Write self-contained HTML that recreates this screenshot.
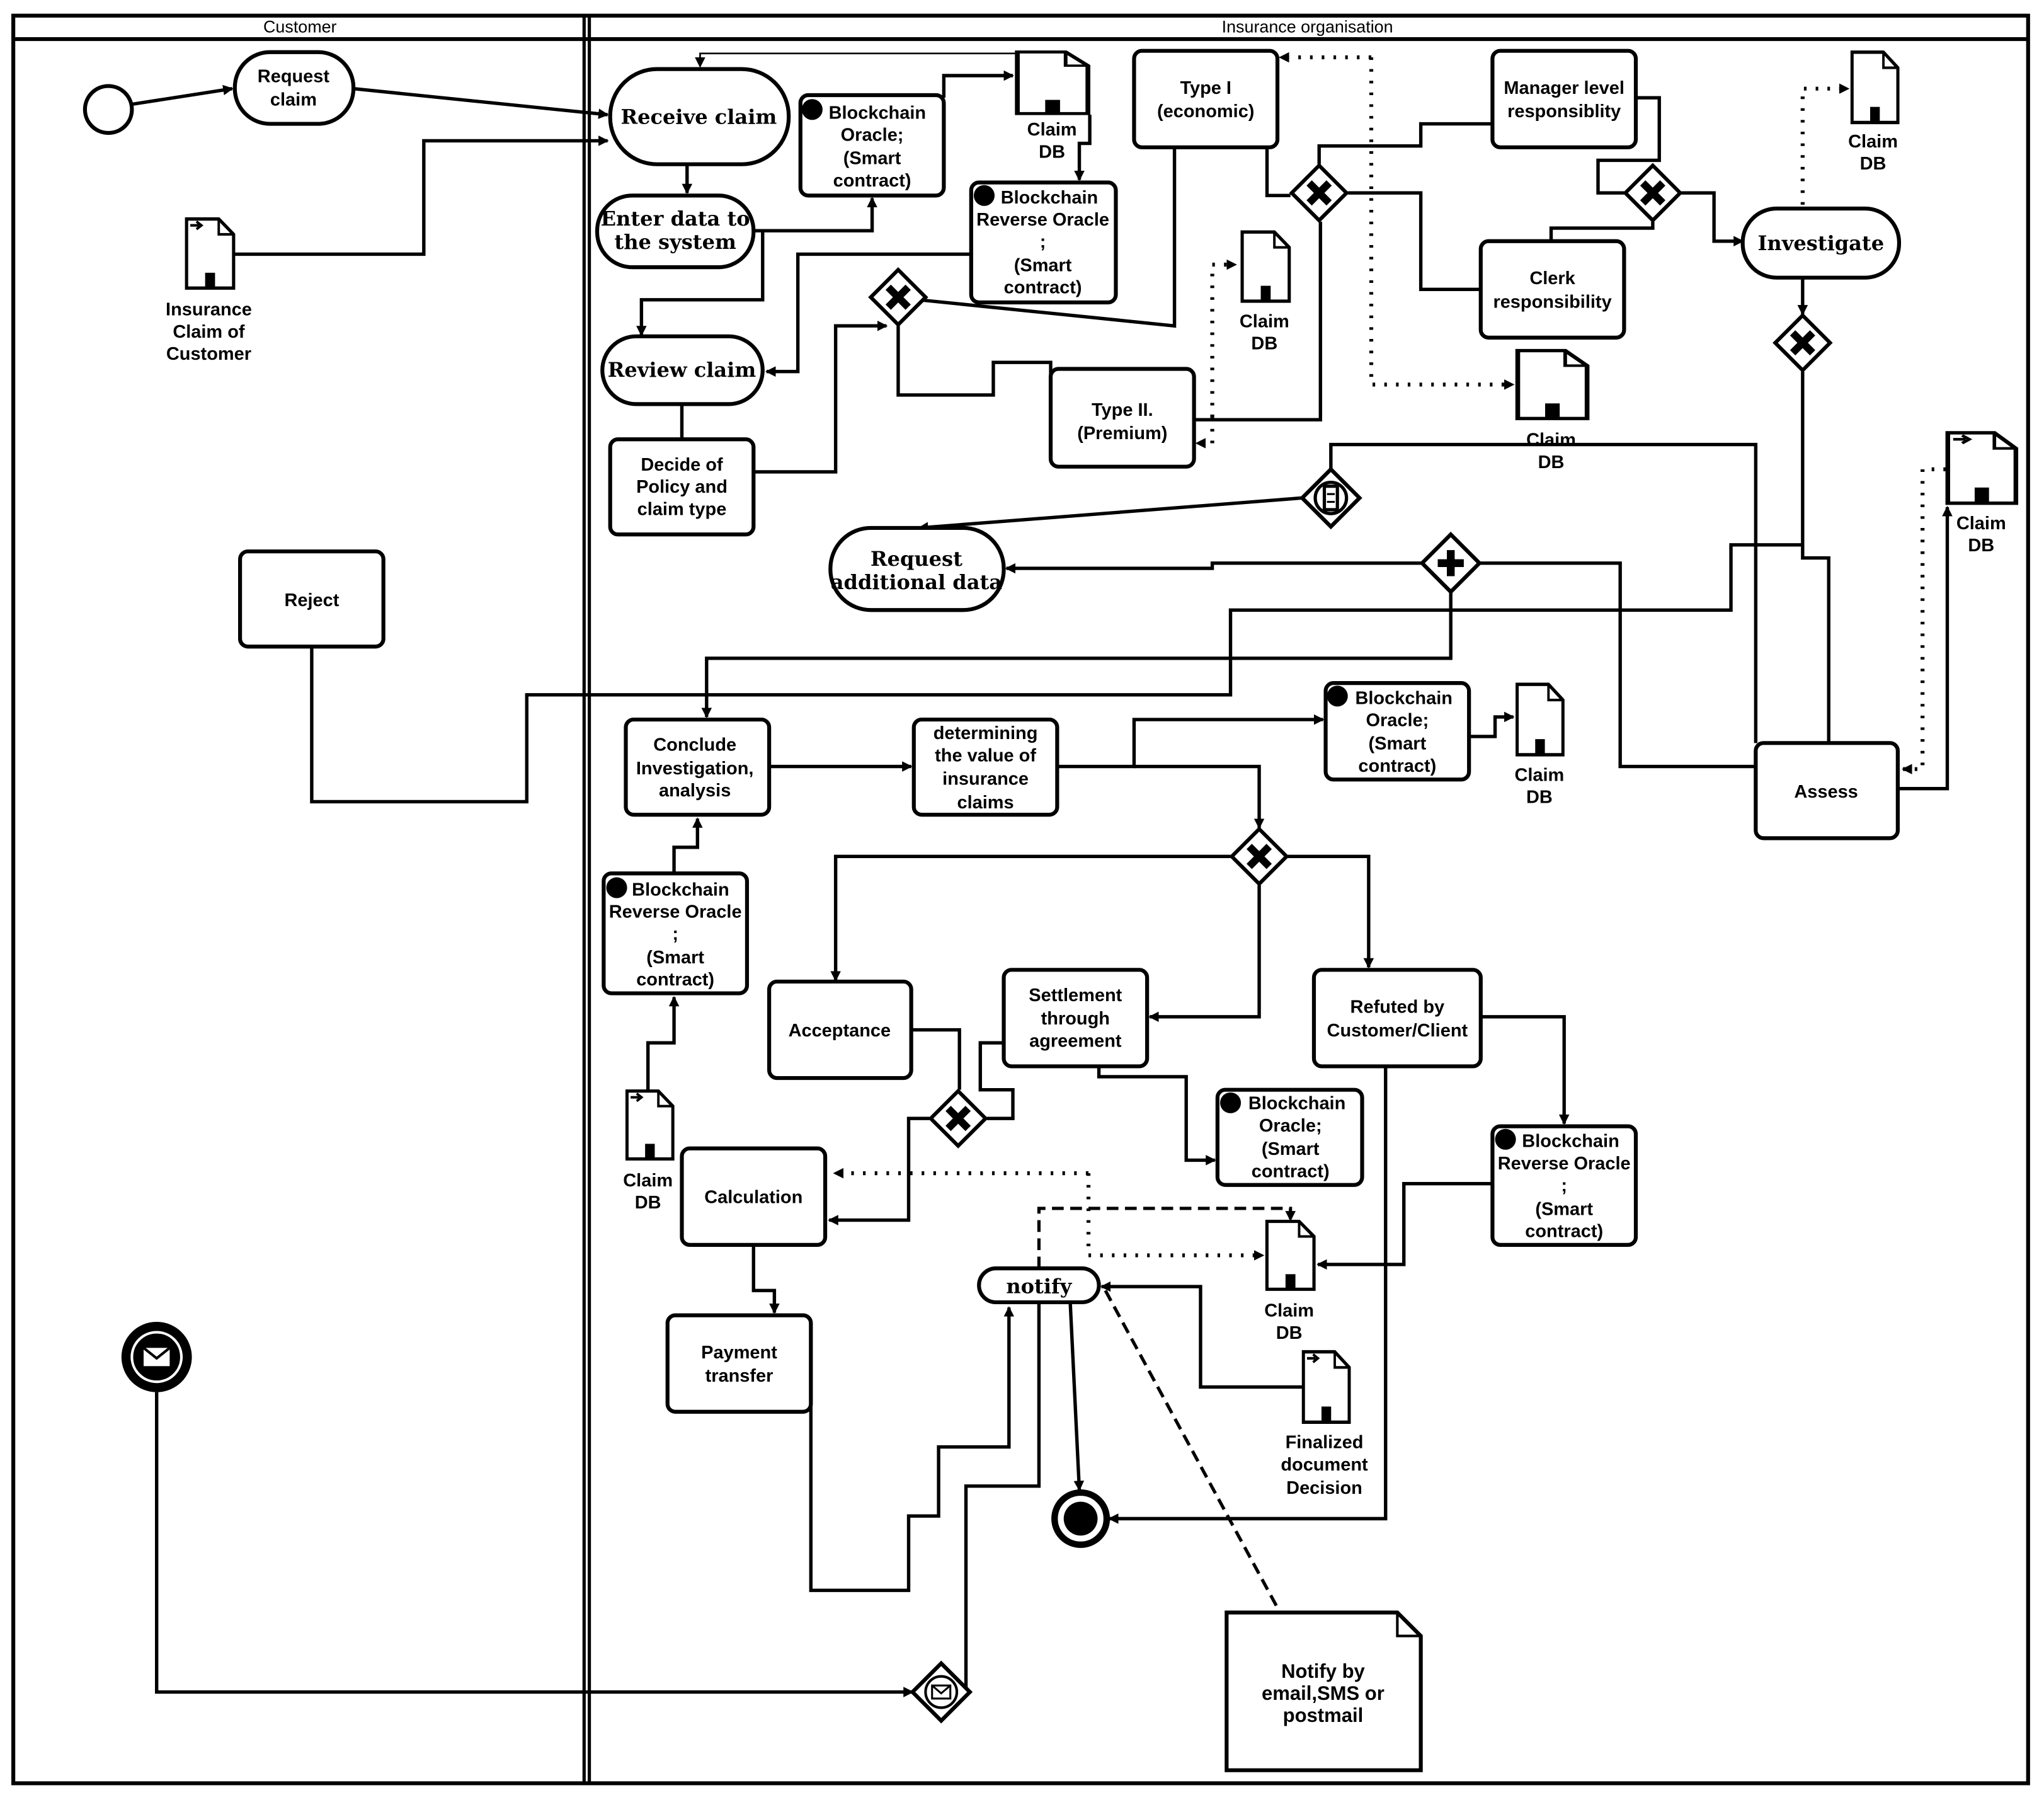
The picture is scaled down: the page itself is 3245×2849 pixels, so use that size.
<!DOCTYPE html>
<html><head><meta charset="utf-8"><style>
html,body{margin:0;padding:0;background:#fff}
svg{display:block}
text{font-family:"Liberation Sans","DejaVu Sans",sans-serif;font-weight:bold;font-size:14px;text-anchor:middle;fill:#000}
.s{font-family:"DejaVu Serif","Liberation Serif",serif;font-size:15.5px}
.b{fill:#fff;stroke:#000;stroke-width:3}
.l{fill:none;stroke:#000;stroke-width:2.6}
.d{fill:none;stroke:#000;stroke-width:3;stroke-dasharray:2 7}
.k{fill:none;stroke:#000;stroke-width:2.5;stroke-dasharray:9 5}
</style></head><body>
<svg width="3245" height="2849" viewBox="0 0 1568 1377" xmlns="http://www.w3.org/2000/svg">
<defs>
<marker id="a" markerWidth="8" markerHeight="8" refX="7" refY="4" orient="auto" markerUnits="userSpaceOnUse" viewBox="0 0 8 8"><path d="M0,0 L8,4 L0,8 z"/></marker>
<symbol id="doc" viewBox="0 0 40 56" overflow="visible" preserveAspectRatio="none"><path d="M1,1 H27 L39,13 V55 H1 Z" fill="#fff" stroke="#000" stroke-width="2.6"/><path d="M27,1 V13 H39" fill="none" stroke="#000" stroke-width="2"/><rect x="16" y="43" width="8" height="12"/></symbol>
<symbol id="doci" viewBox="0 0 40 56" overflow="visible" preserveAspectRatio="none"><path d="M1,1 H27 L39,13 V55 H1 Z" fill="#fff" stroke="#000" stroke-width="2.6"/><path d="M27,1 V13 H39" fill="none" stroke="#000" stroke-width="2"/><rect x="16" y="43" width="8" height="12"/><path d="M4,6 H11 M9,3 L13,6 L9,9" fill="none" stroke="#000" stroke-width="2"/></symbol>
<symbol id="gx" viewBox="-23 -23 46 46" overflow="visible"><path d="M0,-22 L22,0 L0,22 L-22,0 Z" fill="#fff" stroke="#000" stroke-width="3"/><path d="M-8,-8 L8,8 M8,-8 L-8,8" stroke="#000" stroke-width="6"/></symbol>
</defs>
<rect x="10" y="12" width="1546" height="1356" fill="none" stroke="#000" stroke-width="3"/>
<line x1="10" y1="30" x2="1556" y2="30" stroke="#000" stroke-width="3"/>
<line x1="448" y1="12" x2="448" y2="1368" stroke="#000" stroke-width="2.5"/>
<line x1="452" y1="12" x2="452" y2="1368" stroke="#000" stroke-width="2.5"/>
<text x="230" y="25" style="font-size:13px;font-weight:normal">Customer</text>
<text x="1003" y="25" style="font-size:13px;font-weight:normal">Insurance organisation</text>

<g class="l" marker-end="url(#a)">
<polyline points="101,80 178,68"/>
<polyline points="271,68 466,88"/>
<polyline points="180,195 325,195 325,108 466,108"/>
<polyline points="527,126 527,148"/>
<polyline points="578,177 669,177 669,152"/>
<polyline points="585,177 585,230 492,230 492,257"/>
<polyline points="724,75 724,58 777,58"/>
<polyline points="836,88 836,110 828,110 828,138"/>
<polyline points="745,195 612,195 612,285 588,285"/>
<polyline points="578,362 641,362 641,250 680,250"/>
<polyline points="999,382 705,405"/>
<polyline points="1113,454 1113,505 542,505 542,550"/>
<polyline points="1090,432 930,432 930,436 772,436"/>
<polyline points="1383,213 1383,241"/>
<polyline points="1290,148 1315,148 1315,185 1337,185"/>
<polyline points="1456,605 1494,605 1494,389"/>
<polyline points="590,588 699,588"/>
<polyline points="811,588 870,588 870,552 1015,552"/>
<polyline points="870,588 966,588 966,635"/>
<polyline points="1127,565 1147,565 1147,550 1161,550"/>
<polyline points="944,657 641,657 641,752"/>
<polyline points="988,657 1050,657 1050,742"/>
<polyline points="966,679 966,780 882,780"/>
<polyline points="517,670 517,650 535,650 535,628"/>
<polyline points="497,836 497,800 517,800 517,765"/>
<polyline points="713,858 697,858 697,936 636,936"/>
<polyline points="843,818 843,826 910,826 910,890 932,890"/>
<polyline points="1136,780 1200,780 1200,862"/>
<polyline points="1063,818 1063,1165 851,1165"/>
<polyline points="1145,908 1077,908 1077,970 1011,970"/>
<polyline points="999,1064 921,1064 921,987 845,987"/>
<polyline points="821,999 828,1143"/>
<polyline points="578,955 578,990 594,990 594,1007"/>
<polyline points="622,1050 622,1220 697,1220 697,1163 720,1163 720,1110 774,1110 774,1003"/>
<polyline points="120,1068 120,1298 700,1298"/>
</g>
<g class="l">
<polyline points="523,310 523,337"/>
<polyline points="705,230 901,250 901,113"/>
<polyline points="689,250 689,303 762,303 762,278 806,278 806,290"/>
<polyline points="980,75 972,75 972,150 990,150"/>
<polyline points="916,322 1013,322 1013,170"/>
<polyline points="1012,126 1012,112 1090,112 1090,95 1145,95"/>
<polyline points="1034,148 1090,148 1090,222 1136,222"/>
<polyline points="1255,75 1273,75 1273,123 1226,123 1226,148 1246,148"/>
<polyline points="1190,185 1190,175 1268,175 1268,170"/>
<polyline points="1383,285 1383,428 1403,428 1403,570"/>
<polyline points="1347,588 1243,588 1243,432 1135,432"/>
<polyline points="1383,418 1328,418 1328,468 944,468 944,533 404,533 404,615 239,615 239,496"/>
<polyline points="1021,361 1021,341 1347,341 1347,570"/>
<polyline points="699,790 736,790 736,836"/>
<polyline points="770,800 752,800 752,836 777,836 777,858 757,858"/>
<polyline points="744,1298 741,1298 741,1140 797,1140 797,999"/>
</g>
<polyline points="779,41 537,41 537,51" fill="none" stroke="#000" stroke-width="1.3" marker-end="url(#a)"/>
<g class="d" marker-end="url(#a)">
<polyline points="1383,157 1383,68 1418,68"/>
<polyline points="1052,44 1052,295 1161,295"/>
<polyline points="1052,44 982,44"/>
<polyline points="930,320 930,340 918,340"/>
<polyline points="930,320 930,203 948,203"/>
<polyline points="1493,360 1475,360 1475,590 1460,590"/>
<polyline points="835,900 640,900"/>
<polyline points="835,900 835,963 969,963"/>
</g>
<line x1="848" y1="990" x2="982" y2="1237" class="k"/>
<polyline points="797,973 797,927 990,927 990,936" class="k" marker-end="url(#a)"/>

<circle cx="83" cy="84" r="18" class="b"/>
<circle cx="829" cy="1165" r="20" fill="#fff" stroke="#000" stroke-width="5"/>
<circle cx="829" cy="1165" r="13" fill="#000"/>
<circle cx="120" cy="1041" r="27" fill="#000"/>
<circle cx="120" cy="1041" r="19" fill="none" stroke="#fff" stroke-width="2"/>
<rect x="110" y="1034" width="20" height="14" fill="#fff"/><path d="M110,1034 L120,1042 L130,1034" fill="none" stroke="#000" stroke-width="2"/>

<rect x="180" y="40" width="91" height="55" rx="27" class="b"/>
<text x="225" y="63">Request</text><text x="225" y="81">claim</text>
<rect x="468" y="53" width="137" height="73" rx="36" class="b"/>
<text class="s" x="536" y="95">Receive claim</text>
<rect x="458" y="150" width="120" height="55" rx="27" class="b"/>
<text class="s" x="518" y="173">Enter data to</text><text class="s" x="518" y="191">the system</text>
<rect x="462" y="258" width="123" height="52" rx="26" class="b"/>
<text class="s" x="523" y="289">Review claim</text>
<rect x="1337" y="160" width="120" height="53" rx="26" class="b"/>
<text class="s" x="1397" y="192">Investigate</text>
<rect x="637" y="405" width="133" height="63" rx="31" class="b"/>
<text class="s" x="703" y="434">Request</text><text class="s" x="703" y="452">additional data</text>
<rect x="751" y="973" width="92" height="26" rx="13" class="b"/>
<text class="s" x="797" y="992">notify</text>

<g>
<rect x="468" y="337" width="110" height="73" rx="6" class="b"/>
<text x="523" y="361">Decide of</text><text x="523" y="378">Policy and</text><text x="523" y="395">claim type</text>
<rect x="614" y="73" width="110" height="77" rx="6" class="b"/><circle cx="623" cy="84" r="8"/>
<text x="673" y="91">Blockchain</text><text x="669" y="108">Oracle;</text><text x="669" y="126">(Smart</text><text x="669" y="143">contract)</text>
<rect x="745" y="140" width="111" height="92" rx="6" class="b"/><circle cx="755" cy="150" r="8"/>
<text x="805" y="156">Blockchain</text><text x="800" y="173">Reverse Oracle</text><text x="800" y="190">;</text><text x="800" y="208">(Smart</text><text x="800" y="225">contract)</text>
<rect x="870" y="39" width="110" height="74" rx="6" class="b"/>
<text x="925" y="72">Type I</text><text x="925" y="90">(economic)</text>
<rect x="1145" y="39" width="110" height="74" rx="6" class="b"/>
<text x="1200" y="72">Manager level</text><text x="1200" y="90">responsiblity</text>
<rect x="1136" y="185" width="110" height="74" rx="6" class="b"/>
<text x="1191" y="218">Clerk</text><text x="1191" y="236">responsibility</text>
<rect x="806" y="283" width="110" height="75" rx="6" class="b"/>
<text x="861" y="319">Type II.</text><text x="861" y="337">(Premium)</text>
<rect x="184" y="423" width="110" height="73" rx="6" class="b"/>
<text x="239" y="465">Reject</text>
<rect x="480" y="552" width="110" height="73" rx="6" class="b"/>
<text x="533" y="576">Conclude</text><text x="533" y="594">Investigation,</text><text x="533" y="611">analysis</text>
<rect x="701" y="552" width="110" height="73" rx="6" class="b"/>
<text x="756" y="567">determining</text><text x="756" y="584">the value of</text><text x="756" y="602">insurance</text><text x="756" y="620">claims</text>
<rect x="1017" y="524" width="110" height="74" rx="6" class="b"/><circle cx="1026" cy="534" r="8"/>
<text x="1077" y="540">Blockchain</text><text x="1072" y="557">Oracle;</text><text x="1072" y="575">(Smart</text><text x="1072" y="592">contract)</text>
<rect x="1347" y="570" width="109" height="73" rx="6" class="b"/>
<text x="1401" y="612">Assess</text>
<rect x="463" y="670" width="110" height="92" rx="6" class="b"/><circle cx="473" cy="681" r="8"/>
<text x="522" y="687">Blockchain</text><text x="518" y="704">Reverse Oracle</text><text x="518" y="721">;</text><text x="518" y="739">(Smart</text><text x="518" y="756">contract)</text>
<rect x="590" y="753" width="109" height="74" rx="6" class="b"/>
<text x="644" y="795">Acceptance</text>
<rect x="770" y="744" width="110" height="74" rx="6" class="b"/>
<text x="825" y="768">Settlement</text><text x="825" y="786">through</text><text x="825" y="803">agreement</text>
<rect x="1008" y="744" width="128" height="74" rx="6" class="b"/>
<text x="1072" y="777">Refuted by</text><text x="1072" y="795">Customer/Client</text>
<rect x="934" y="836" width="111" height="73" rx="6" class="b"/><circle cx="944" cy="846" r="8"/>
<text x="995" y="851">Blockchain</text><text x="990" y="868">Oracle;</text><text x="990" y="886">(Smart</text><text x="990" y="903">contract)</text>
<rect x="523" y="881" width="110" height="74" rx="6" class="b"/>
<text x="578" y="923">Calculation</text>
<rect x="1145" y="864" width="110" height="91" rx="6" class="b"/><circle cx="1155" cy="874" r="8"/>
<text x="1205" y="880">Blockchain</text><text x="1200" y="897">Reverse Oracle</text><text x="1200" y="914">;</text><text x="1200" y="932">(Smart</text><text x="1200" y="949">contract)</text>
<rect x="512" y="1009" width="110" height="74" rx="6" class="b"/>
<text x="567" y="1042">Payment</text><text x="567" y="1060">transfer</text>
</g>

<use href="#doci" x="142" y="167" width="38" height="55"/>
<text x="160" y="242">Insurance</text><text x="160" y="259">Claim of</text><text x="160" y="276">Customer</text>
<use href="#doc" x="779" y="39" width="57" height="49"/>
<text x="807" y="104">Claim</text><text x="807" y="121">DB</text>
<use href="#doc" x="1420" y="39" width="37" height="56"/>
<text x="1437" y="113">Claim</text><text x="1437" y="130">DB</text>
<use href="#doc" x="952" y="177" width="38" height="55"/>
<text x="970" y="251">Claim</text><text x="970" y="268">DB</text>
<use href="#doc" x="1163" y="268" width="56" height="54"/>
<text x="1190" y="342">Claim</text><text x="1190" y="359">DB</text>
<use href="#doci" x="1493" y="331" width="55" height="56"/>
<text x="1520" y="406">Claim</text><text x="1520" y="423">DB</text>
<use href="#doc" x="1163" y="524" width="37" height="56"/>
<text x="1181" y="599">Claim</text><text x="1181" y="616">DB</text>
<use href="#doci" x="480" y="836" width="37" height="54"/>
<text x="497" y="910">Claim</text><text x="497" y="927">DB</text>
<use href="#doc" x="971" y="936" width="38" height="54"/>
<text x="989" y="1010">Claim</text><text x="989" y="1027">DB</text>
<use href="#doci" x="999" y="1036" width="37" height="56"/>
<text x="1016" y="1111">Finalized</text><text x="1016" y="1128">document</text><text x="1016" y="1146">Decision</text>
<path d="M941,1237 H1072 L1090,1255 V1358 H941 Z" class="b"/><path d="M1072,1237 V1255 H1090" fill="none" stroke="#000" stroke-width="2"/>
<text x="1015" y="1287" style="font-size:15px">Notify by</text><text x="1015" y="1304" style="font-size:15px">email,SMS or</text><text x="1015" y="1321" style="font-size:15px">postmail</text>

<use href="#gx" x="990" y="126" width="44" height="44"/>
<use href="#gx" x="1246" y="126" width="44" height="44"/>
<use href="#gx" x="1361" y="241" width="44" height="44"/>
<use href="#gx" x="667" y="206" width="44" height="44"/>
<use href="#gx" x="944" y="635" width="44" height="44"/>
<use href="#gx" x="713" y="836" width="44" height="44"/>
<path d="M1021,360 L1043,382 L1021,404 L999,382 Z" class="b"/>
<circle cx="1021" cy="382" r="12" fill="none" stroke="#000" stroke-width="2.5"/>
<rect x="1016" y="373" width="10" height="18" fill="none" stroke="#000" stroke-width="2.5"/>
<path d="M1018,379 H1024 M1018,385 H1024" stroke="#000" stroke-width="1.5"/>
<path d="M1113,410 L1135,432 L1113,454 L1091,432 Z" class="b"/>
<path d="M1113,422 V442 M1103,432 H1123" stroke="#000" stroke-width="6"/>
<path d="M722,1276 L744,1298 L722,1320 L700,1298 Z" class="b"/>
<circle cx="722" cy="1298" r="12" fill="none" stroke="#000" stroke-width="2"/>
<rect x="715" y="1293" width="14" height="10" fill="none" stroke="#000" stroke-width="1.5"/><path d="M715,1293 L722,1299 L729,1293" fill="none" stroke="#000" stroke-width="1.5"/>
</svg>
</body></html>
